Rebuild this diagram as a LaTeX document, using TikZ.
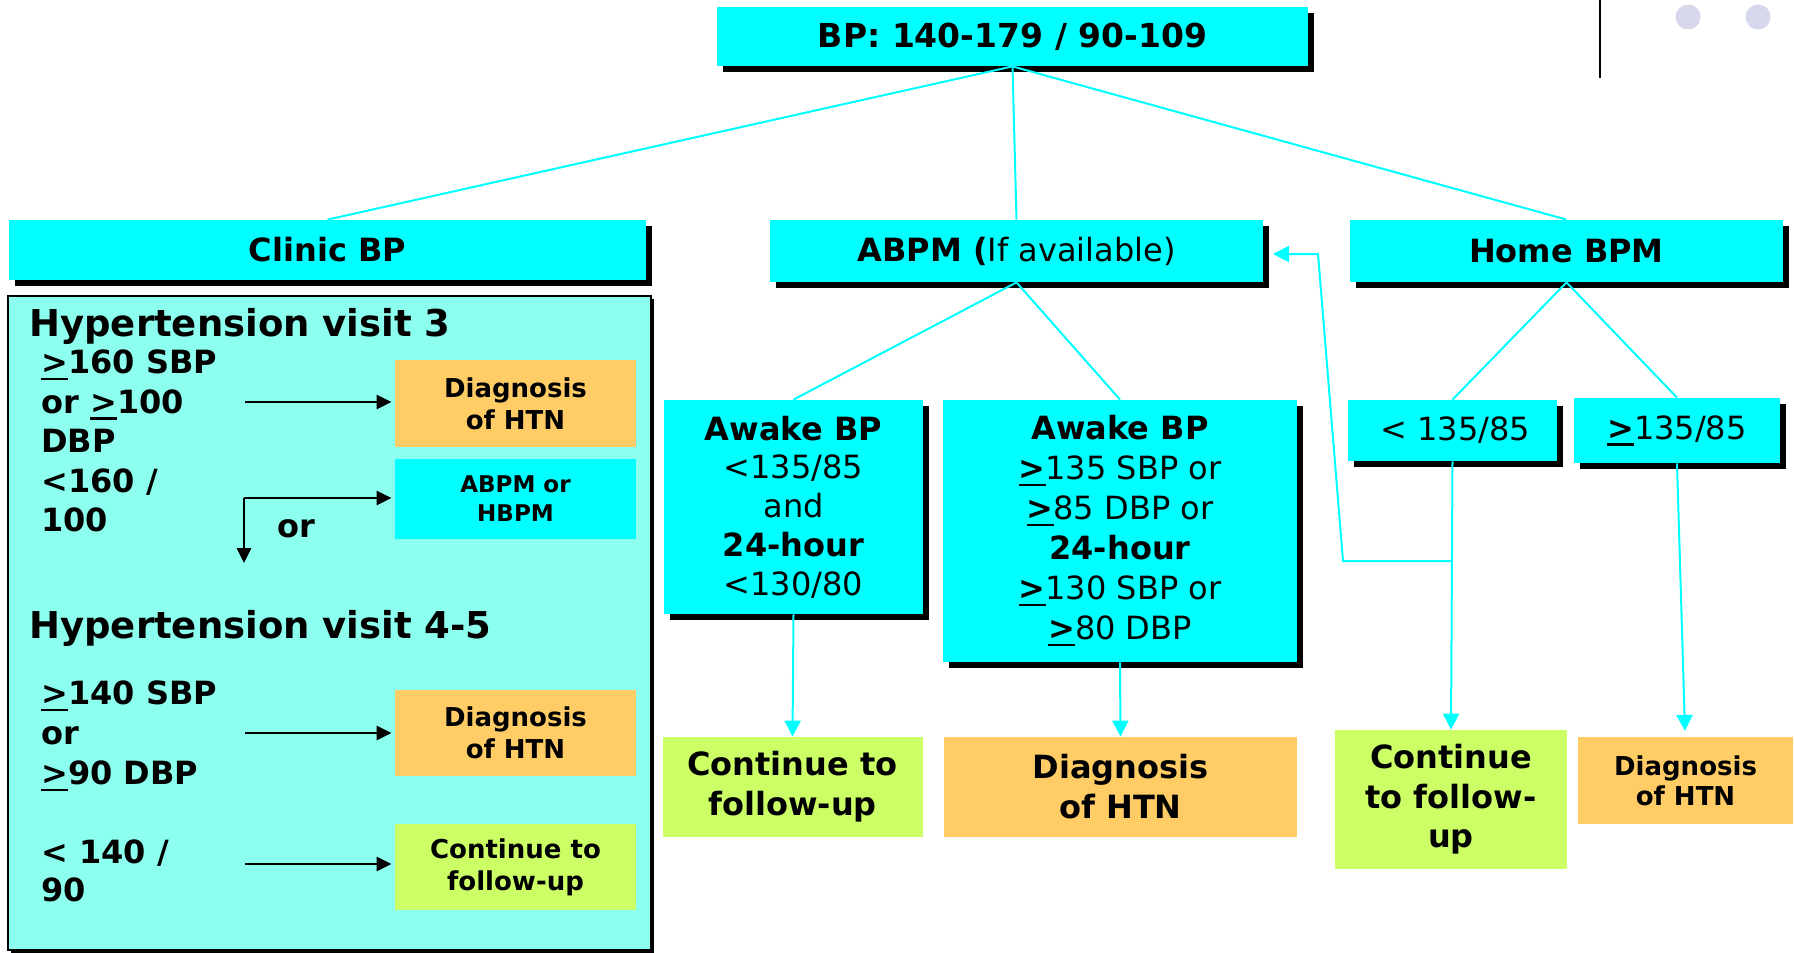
\documentclass[tikz,border=0pt]{standalone}
\usepackage{fontspec}
\setmainfont{DejaVu Sans}
\usetikzlibrary{shadows,arrows.meta}
\definecolor{cyanc}{HTML}{00FFFF}
\definecolor{orangec}{HTML}{FFCC66}
\definecolor{greenc}{HTML}{CCFF66}
\definecolor{aquac}{HTML}{8CFFEE}
\definecolor{dotc}{HTML}{D8D8EC}
\newcommand\myfs[2]{\fontsize{#1}{#2}\selectfont}
\newcommand\mygeq{\mbox{\bfseries\rlap{\rule[-0.2em]{0.84em}{0.07em}}>}}
\begin{document}
\begin{tikzpicture}[x=0.5pt,y=-0.5pt,
  wh/.style 2 args={minimum width=#1*0.5pt, minimum height=#2*0.5pt},
  box/.style={inner sep=0pt, align=center},
  cybox/.style={box, fill=cyanc},
  orbox/.style={box, fill=orangec},
  grbox/.style={box, fill=greenc},
  sh/.style={drop shadow={shadow xshift=3pt, shadow yshift=-3pt, fill=black, opacity=1}},
  conn/.style={draw=cyanc, line width=1pt},
  carrow/.style={conn, -{Triangle[length=8pt,width=8pt]}},
  barrow/.style={draw=black, line width=1.3pt, -{Triangle[length=7.5pt,width=7pt]}},
  txt/.style={inner sep=0pt, align=left, font=\bfseries\myfs{16}{19.75}}
]
\fill[white] (0,0) rectangle (1794,953);
\useasboundingbox (0,0) rectangle (1794,953);

% top-right decoration
\draw[black, line width=0.6pt] (1600,0) -- (1600,78);
\fill[dotc] (1688,17) circle[radius=6.25pt];
\fill[dotc] (1758,17) circle[radius=6.25pt];

% level 1 and 2
\node[cybox, sh, wh={591}{59}, font=\bfseries\myfs{16.5}{20}] (top) at (1012.5,36.5) {BP: 140-179 / 90-109};
\node[cybox, sh, wh={637}{60}, font=\bfseries\myfs{16}{19}] (clinic) at (327.5,250) {Clinic BP};
\node[cybox, sh, wh={493}{62}, font=\myfs{16}{19}] (abpm) at (1016.5,251) {\textbf{ABPM (}If available)};
\node[cybox, sh, wh={433}{62}, font=\bfseries\myfs{16}{19}] (home) at (1566.5,251) {Home BPM};

\draw[conn] (top.south) -- (clinic.north);
\draw[conn] (top.south) -- (abpm.north);
\draw[conn] (top.south) -- (home.north);

% clinic panel
\node[draw=black, line width=1pt, fill=aquac, wh={643}{654}, inner sep=0pt,
  drop shadow={shadow xshift=1.5pt, shadow yshift=-1.5pt, fill=black, opacity=1}] (panel) at (329.5,623) {};
\node[txt, font=\bfseries\myfs{18.5}{22}, anchor=west] (h3) at (29,326) {Hypertension visit 3};
\node[txt, anchor=west] (v3) at (41,441) {\mygeq160 SBP\\or \mygeq100\\DBP\\<160 /\\100};
\node[txt] (ortxt) at (296,529) {or};
\node[txt, font=\bfseries\myfs{18.5}{22}, anchor=west] (h45) at (29,628) {Hypertension visit 4-5};
\node[txt, anchor=west, font=\bfseries\myfs{16}{20}] (v45) at (41,736) {\mygeq140 SBP\\or\\\mygeq90 DBP};
\node[txt, anchor=west, font=\bfseries\myfs{16}{19}] (v45b) at (41,871) {< 140 /\\90};

\node[orbox, wh={241}{87}, font=\bfseries\myfs{13}{16}] (d1) at (515.5,403.5) {Diagnosis\\of HTN};
\node[cybox, wh={241}{80}, font=\bfseries\myfs{11.5}{14.5}] (ab) at (515.5,499) {ABPM or\\HBPM};
\node[orbox, wh={241}{86}, font=\bfseries\myfs{13}{16}] (d2) at (515.5,733) {Diagnosis\\of HTN};
\node[grbox, wh={241}{86}, font=\bfseries\myfs{13}{16}] (g1) at (515.5,867) {Continue to\\follow-up};

\coordinate (a1) at (245,402);
\coordinate (a2) at (244,498);
\coordinate (a3) at (244,563);
\coordinate (a4) at (245,733);
\coordinate (a5) at (245,864);
\draw[barrow, shorten >=1.5pt] (a1) -- (a1 -| d1.west);
\draw[barrow, shorten >=1.5pt] (a2) -- (a2 -| ab.west);
\draw[barrow] (a2) -- (a3);
\draw[barrow, shorten >=1.5pt] (a4) -- (a4 -| d2.west);
\draw[barrow, shorten >=1.5pt] (a5) -- (a5 -| g1.west);

% ABPM branch
\node[cybox, sh, wh={259}{214}, font=\myfs{16}{19.4}] (aw1) at (793.5,507) {\textbf{Awake BP}\\<135/85\\and\\\textbf{24-hour}\\<130/80};
\node[cybox, sh, wh={354}{262}, font=\myfs{16}{20}] (aw2) at (1120,531) {\textbf{Awake BP}\\\mygeq135 SBP or\\\mygeq85 DBP or\\\textbf{24-hour}\\\mygeq130 SBP or\\\mygeq80 DBP};
\node[grbox, wh={260}{100}, font=\bfseries\myfs{16}{20}] (g2) at (792.5,787) {Continue to\\follow-up};
\node[orbox, wh={353}{100}, font=\bfseries\myfs{16}{20}] (d3) at (1120.5,787) {Diagnosis\\of HTN};

\draw[conn] (abpm.south) -- (aw1.north);
\draw[conn] (abpm.south) -- (aw2.north);
\draw[carrow] (aw1.south) -- (g2.north);
\draw[carrow] (aw2.south) -- (d3.north);

% Home BPM branch
\node[cybox, sh, wh={209}{61}, font=\myfs{16}{19}] (lt) at (1452.5,430.5) {\,< 135/85};
\node[cybox, sh, wh={206}{65}, font=\myfs{16}{19}] (ge) at (1677,430.5) {\mygeq135/85};
\node[grbox, wh={232}{139}, font=\bfseries\myfs{16}{19.75}] (g3) at (1451,799.5) {Continue\\to follow-\\up};
\node[orbox, wh={215}{87}, font=\bfseries\myfs{13}{15}] (d4) at (1685.5,780.5) {Diagnosis\\of HTN};

\draw[conn] (home.south) -- (lt.north);
\draw[conn] (home.south) -- (ge.north);
\draw[carrow] (lt.south) -- (g3.north);
\coordinate (d4t) at (1685,731);
\draw[carrow] (ge.south) -- (d4t);

\coordinate (fb1) at (1452,561);
\coordinate (fb2) at (1343,561);
\coordinate (fb3) at (1318,254);
\coordinate (fbt) at (1273,254);
\draw[carrow] (fb1) -- (fb2) -- (fb3) -- (fbt);
\end{tikzpicture}
\end{document}
